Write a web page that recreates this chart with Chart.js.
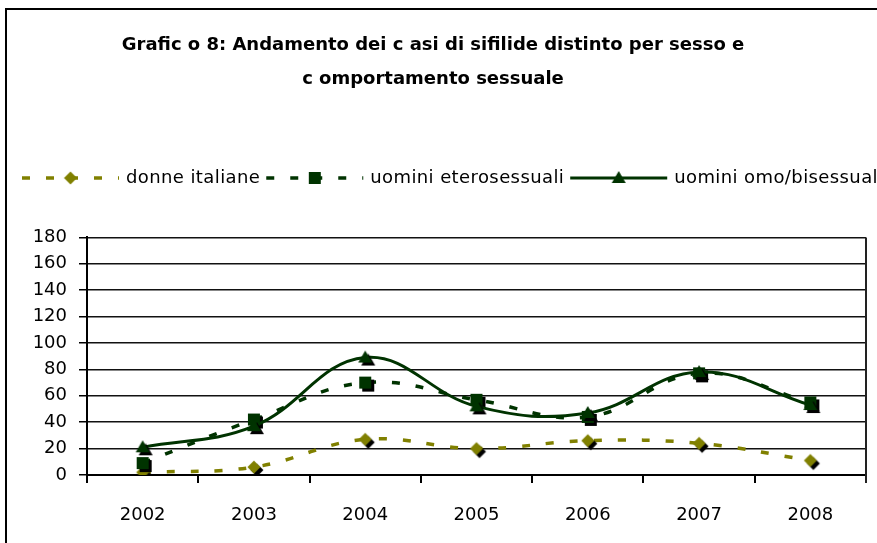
<!DOCTYPE html>
<html>
<head>
<meta charset="utf-8">
<script src="https://cdn.jsdelivr.net/npm/chart.js@4.4.1/dist/chart.umd.min.js"></script>
<style>
html, body { margin: 0; padding: 0; background: #fff; overflow: hidden; }
#wrap { position: relative; width: 877px; height: 543px; overflow: hidden; }
#frame { position: absolute; left: 5px; top: 8px; width: 1000px; height: 1000px; border: 2px solid #000; }
#grafico { position: absolute; left: 0; top: 0; }
</style>
</head>
<body>
<div id="wrap">
  <div id="frame"></div>
  <canvas id="grafico" width="877" height="543"></canvas>
</div>
<script>
// dati
const anni = ['2002', '2003', '2004', '2005', '2006', '2007', '2008'];
const donneItaliane = [2, 6, 27, 20, 26, 24, 11];
const uominiEtero = [9, 42, 70, 57, 44, 77, 55];
const uominiOmoBi = [21, 37, 89, 52, 47, 78, 53];
const tickY = [0, 20, 40, 60, 80, 100, 120, 140, 160, 180];

const OLIVA = '#808000';
const VERDE = '#003300';
const FONT = 'DejaVu Sans';

// marker con ombra nera (come in Excel)
function creaMarker(forma, colore, ombra) {
    const c = document.createElement('canvas');
    c.width = 24; c.height = 24;
    const g = c.getContext('2d');
    const disegna = (dx, dy, col) => {
        const cx = 12 + dx, cy = 12 + dy;
        g.fillStyle = col;
        g.beginPath();
        if (forma === 'diamond') {
            g.moveTo(cx, cy - 6.5); g.lineTo(cx + 6.5, cy); g.lineTo(cx, cy + 6.5); g.lineTo(cx - 6.5, cy);
        } else if (forma === 'square') {
            g.rect(cx - 6, cy - 6, 12, 12);
        } else {
            g.moveTo(cx, cy - 7); g.lineTo(cx + 7, cy + 5); g.lineTo(cx - 7, cy + 5);
        }
        g.closePath();
        g.fill();
    };
    if (ombra) disegna(3, 3, '#000');
    disegna(0, 0, colore);
    return c;
}

const serie = [
    { label: 'donne italiane', data: donneItaliane, colore: OLIVA, forma: 'diamond', dash: [8, 16], w: 3.5, order: 3 },
    { label: 'uomini eterosessuali', data: uominiEtero, colore: VERDE, forma: 'square', dash: [8, 16], w: 3.5, order: 2 },
    { label: 'uomini omo/bisessuali', data: uominiOmoBi, colore: VERDE, forma: 'triangle', dash: [], w: 3, order: 1 }
];

const datasets = serie.map(s => ({
    label: s.label,
    data: s.data,
    borderColor: s.colore,
    backgroundColor: s.colore,
    borderWidth: s.w,
    borderDash: s.dash,
    tension: 0.4,
    pointStyle: creaMarker(s.forma, s.colore, true),
    legendMarker: creaMarker(s.forma, s.colore, false),
    pointRadius: 7,
    order: s.order,
    fill: false
}));

// legenda disegnata a mano per tenerla su una sola riga
const legendaExcel = {
    id: 'legendaExcel',
    afterDraw(chart) {
        const ctx = chart.ctx;
        const y = 178;
        let x = 22;
        ctx.save();
        ctx.font = '18px "' + FONT + '"';
        ctx.letterSpacing = '0.4px';
        ctx.textBaseline = 'middle';
        chart.data.datasets.forEach(ds => {
            ctx.strokeStyle = ds.borderColor;
            ctx.lineWidth = ds.borderWidth;
            ctx.setLineDash(ds.borderDash);
            ctx.beginPath();
            ctx.moveTo(x, y);
            ctx.lineTo(x + 97, y);
            ctx.stroke();
            ctx.setLineDash([]);
            ctx.drawImage(ds.legendMarker, x + 48.5 - 12, y - 12);
            ctx.fillStyle = '#000';
            ctx.fillText(ds.label, x + 104, y);
            x += 104 + ctx.measureText(ds.label).width + 6;
        });
        ctx.restore();
    }
};

// bordo destro dell'area del grafico
const bordoArea = {
    id: 'bordoArea',
    afterDatasetsDraw(chart) {
        const a = chart.chartArea;
        const ctx = chart.ctx;
        ctx.save();
        ctx.strokeStyle = '#222';
        ctx.lineWidth = 2;
        ctx.beginPath();
        ctx.moveTo(a.right, a.top);
        ctx.lineTo(a.right, a.bottom + 8);
        ctx.stroke();
        ctx.restore();
    }
};

new Chart(document.getElementById('grafico'), {
    type: 'line',
    data: { labels: anni, datasets: datasets },
    plugins: [legendaExcel, bordoArea],
    options: {
        responsive: false,
        animation: false,
        layout: { padding: { left: 0, right: 11, top: 0, bottom: 0 } },
        plugins: {
            legend: { display: false },
            tooltip: { enabled: false },
            title: {
                display: true,
                text: ['Grafic o 8: Andamento dei c asi di sifilide distinto per sesso e', 'c omportamento sessuale'],
                color: '#000',
                font: { family: FONT, size: 18, weight: 'bold', lineHeight: 1.9 },
                padding: { top: 28, bottom: 141 }
            }
        },
        scales: {
            x: {
                offset: true,
                afterFit: s => { s.height = 68; },
                grid: { offset: true, drawOnChartArea: false, drawTicks: true, tickLength: 8, color: '#000', lineWidth: 2 },
                border: { display: true, color: '#000', width: 2 },
                ticks: { color: '#000', font: { family: FONT, size: 18 }, padding: 22, maxRotation: 0 }
            },
            y: {
                min: 0,
                max: 180,
                afterFit: s => { s.width = 87; },
                afterBuildTicks: s => { s.ticks = tickY.map(v => ({ value: v })); },
                grid: { color: '#111', lineWidth: 1.5, tickLength: 8, tickColor: '#000' },
                border: { display: true, color: '#000', width: 2 },
                ticks: { color: '#000', font: { family: FONT, size: 18 }, padding: 12 }
            }
        }
    }
});
</script>
</body>
</html>
